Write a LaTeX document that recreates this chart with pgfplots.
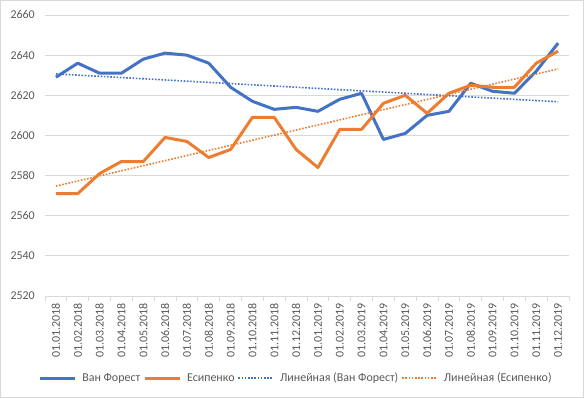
\documentclass[border=0pt]{standalone}
\usepackage{fontspec}
\setmainfont{Carlito}
\usepackage{pgfplots}
\usepackage{pgfplotstable}
\pgfplotsset{compat=1.18}
\definecolor{cblue}{HTML}{4472C4}
\definecolor{corange}{HTML}{ED7D31}
\definecolor{cgrid}{HTML}{D9D9D9}
\definecolor{ctext}{HTML}{595959}
\pgfplotstableread{
x a b
0 2629 2571
1 2636 2571
2 2631 2581
3 2631 2587
4 2638 2587
5 2641 2599
6 2640 2597
7 2636 2589
8 2624 2593
9 2617 2609
10 2613 2609
11 2614 2593
12 2612 2584
13 2618 2603
14 2621 2603
15 2598 2616
16 2601 2620
17 2610 2611
18 2612 2621
19 2626 2625
20 2622 2624
21 2621 2624
22 2632 2636
23 2646 2642
}\data
\pgfplotsset{
  legend image code/.code={\draw[#1] (0bp,0bp) -- (35bp,0bp);},
}
\begin{document}
\begin{tikzpicture}[x=1bp,y=1bp]
\path[use as bounding box] (0,0) rectangle (584,398);
\draw[cgrid, line width=0.75bp] (0.5,0.5) rectangle (583.5,397.5);
\begin{axis}[
  at={(45bp,102bp)}, anchor=south west,
  scale only axis, width=524bp, height=281bp,
  xmin=-0.5, xmax=23.5, ymin=2520, ymax=2660,
  ytick={2520,2540,...,2660},
  xtick={0,...,23},
  xticklabels={01.01.2018,01.02.2018,01.03.2018,01.04.2018,01.05.2018,01.06.2018,01.07.2018,01.08.2018,01.09.2018,01.10.2018,01.11.2018,01.12.2018,01.01.2019,01.02.2019,01.03.2019,01.04.2019,01.05.2019,01.06.2019,01.07.2019,01.08.2019,01.09.2019,01.10.2019,01.11.2019,01.12.2019},
  minor xtick={-0.5,0.5,...,23.5},
  axis x line*=bottom, axis y line*=left,
  x axis line style={-, draw=cgrid, line width=0.75bp},
  y axis line style={draw=none},
  ytick style={draw=none},
  major x tick style={draw=none},
  minor x tick style={draw=cgrid, line width=0.75bp},
  tick align=outside, minor tick length=5bp, major tick length=0bp,
  ymajorgrids, major grid style={cgrid, line width=0.75bp},
  /pgf/number format/assume math mode=true,
  /pgf/number format/1000 sep={},
  tick label style={font=\fontsize{12}{14}\selectfont, text=ctext},
  xticklabel style={rotate=90, anchor=east, inner sep=0pt},
  yticklabel style={anchor=east, inner sep=0pt},
  xticklabel shift=7bp, yticklabel shift=10bp,
  legend style={at={(0.477,-0.292)}, anchor=center, draw=none, fill=none,
    legend columns=4, font=\fontsize{12}{14}\selectfont, text=ctext,
    nodes={inner sep=0pt, inner ysep=1bp},
    /tikz/every even column/.append style={column sep=3bp},
    /tikz/every odd column/.append style={column sep=6bp},
    inner sep=0pt},
  clip=false,
]
\addplot[cblue, line width=3bp, line join=round] table[x=x,y=a] {\data};
\addlegendentry{Ван Форест}
\addplot[corange, line width=3bp, line join=round] table[x=x,y=b] {\data};
\addlegendentry{Есипенко}
\addplot[cblue, line width=1.6bp, dash pattern=on 1.6bp off 1.6bp] table[x=x,y={create col/linear regression={y=a}}] {\data};
\addlegendentry{Линейная (Ван Форест)}
\addplot[corange, line width=1.6bp, dash pattern=on 1.6bp off 1.6bp] table[x=x,y={create col/linear regression={y=b}}] {\data};
\addlegendentry{Линейная (Есипенко)}
\end{axis}
\end{tikzpicture}
\end{document}
